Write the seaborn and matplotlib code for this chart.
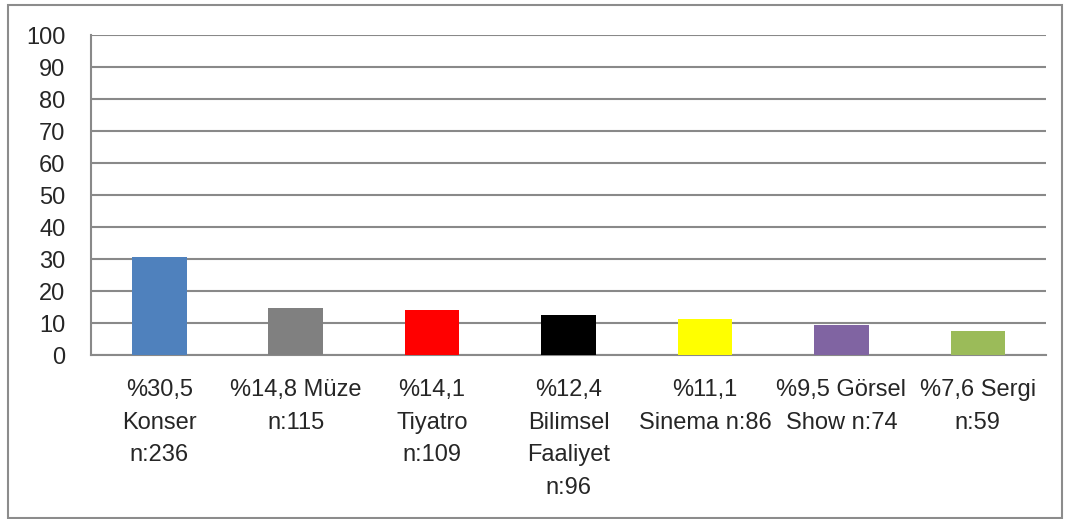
import matplotlib
matplotlib.use("Agg")
import matplotlib.pyplot as plt
from matplotlib.patches import Rectangle
import seaborn as sns
import pandas as pd

# Activity participation shares
activities = ["Konser", "Müze", "Tiyatro", "Bilimsel Faaliyet", "Sinema", "Görsel Show", "Sergi"]
percentages = [30.5, 14.8, 14.1, 12.4, 11.1, 9.5, 7.6]
counts = [236, 115, 109, 96, 86, 74, 59]
bar_colors = ["#4F81BD", "#808080", "#FF0000", "#000000", "#FFFF00", "#8064A2", "#9BBB59"]
y_ticks = [0, 10, 20, 30, 40, 50, 60, 70, 80, 90, 100]


def pct(v):
    return "%" + f"{v:.1f}".replace(".", ",")


# Category labels wrapped the way the axis lays them out
wrap_patterns = [
    "{p}\n{a}\nn:{n}",
    "{p} {a}\nn:{n}",
    "{p}\n{a}\nn:{n}",
    "{p}\nBilimsel\nFaaliyet\nn:{n}",
    "{p}\n{a} n:{n}",
    "{p} Görsel\nShow n:{n}",
    "{p} {a}\nn:{n}",
]
labels = [w.format(p=pct(v), a=a, n=n) for w, v, a, n in zip(wrap_patterns, percentages, activities, counts)]

df = pd.DataFrame({"label": labels, "value": percentages})

sns.set_style("white")
plt.rcParams["font.family"] = ["Liberation Sans", "DejaVu Sans"]

fig = plt.figure(figsize=(10.70, 5.19), dpi=100)
ax = fig.add_axes([91 / 1070, 1 - 355 / 519, (1046 - 91) / 1070, (355 - 35) / 519])

sns.barplot(data=df, x="label", y="value", hue="label", palette=bar_colors,
            width=0.4, legend=False, ax=ax, saturation=1, linewidth=0, zorder=3)

grid_color = "#898989"
ax.set_ylim(0, 100)
ax.set_xlim(-0.5, len(labels) - 0.5)
ax.set_yticks(y_ticks)
ax.set_yticklabels([str(t) for t in y_ticks], fontsize=17)
ax.yaxis.grid(True, color=grid_color, linewidth=1.5, zorder=0)
ax.set_axisbelow(True)

ax.set_xticks(range(len(labels)))
ax.set_xticklabels(labels, fontsize=17, linespacing=1.62, va="top")
ax.set_xticks([i - 0.5 for i in range(len(labels) + 1)], minor=True)
ax.tick_params(axis="x", which="major", length=0, pad=17.5)
ax.tick_params(axis="x", which="minor", length=7, width=1.5, color=grid_color)
ax.tick_params(axis="y", length=8, width=1.5, color=grid_color, pad=10.5)
ax.set_xlabel("")
ax.set_ylabel("")

for side in ["top", "right"]:
    ax.spines[side].set_visible(False)
for side in ["left", "bottom"]:
    ax.spines[side].set_color(grid_color)
    ax.spines[side].set_linewidth(1.5)

# Outer chart frame
fig.patches.append(Rectangle((8 / 1070, 1 / 519), (1062 - 8) / 1070, (514 - 1) / 519,
                             transform=fig.transFigure, fill=False,
                             edgecolor="#8c8c8c", linewidth=1.5))

fig.savefig("out.png", dpi=100)
